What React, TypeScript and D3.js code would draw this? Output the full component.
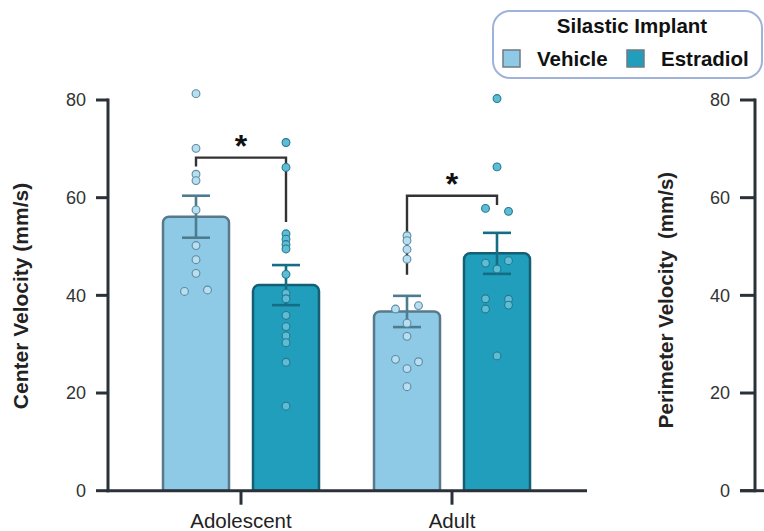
import React from "react";
import * as d3 from "d3";

// Groups and treatment series
const groups = ["Adolescent", "Adult"];
const series = ["Vehicle", "Estradiol"];

// Bar means and SEM (mm/s), indexed by group
const vehicleMean = [56.1, 36.7];
const vehicleSem = [4.3, 3.2];
const estradiolMean = [42.1, 48.6];
const estradiolSem = [4.1, 4.2];

// Individual animals: [value, lane] where lane spreads overlapping points
const adolescentVehicle: [number, number][] = [
  [81.3, 0], [70.1, 0], [64.8, 0], [63.5, 0], [57.5, 0], [50.2, 0], [47.3, 0], [44.5, 0], [40.8, -1], [41.1, 1],
];
const adolescentEstradiol: [number, number][] = [
  [71.3, 0], [66.2, 0], [52.6, 0], [51.5, 0], [50.4, 0], [49.5, 0], [44.3, 0], [40.4, 0], [39.3, 0], [35.9, 0],
  [33.6, 0], [31.7, 0], [30.3, 0], [26.3, 0], [17.3, 0],
];
const adultVehicle: [number, number][] = [
  [52.2, 0], [51.2, 0], [49.4, 0], [47.4, 0], [37.2, -1], [37.9, 1], [34.3, 0], [31.6, 0], [26.9, -1], [26.4, 1],
  [25.0, 0], [21.3, 0],
];
const adultEstradiol: [number, number][] = [
  [80.3, 0], [66.3, 0], [57.8, -1], [57.2, 1], [46.6, -1], [47.1, 1], [45.4, 0], [39.3, -1], [37.2, -1], [39.2, 1],
  [38.0, 1], [27.6, 0],
];

// Significance brackets per group (y levels in mm/s)
const bracketLevel = [68.2, 60.4];
const bracketLeftEnd = [66.4, 44.2];
const bracketRightEnd = [55.0, 58.5];
const bracketLabel = ["*", "*"];

const yTicks = [0, 20, 40, 60, 80];

const W = 764;
const H = 531;
const FONT = "'Liberation Sans', Arial, Helvetica, sans-serif";
const AXIS = "#2b3138";

const colors = {
  Vehicle: { fill: "#8ecae6", stroke: "#58798a", err: "#4d7c91", dot: "#b9def0", dotStroke: "#5c8ba2" },
  Estradiol: { fill: "#219ebc", stroke: "#145f73", err: "#156d84", dot: "#5dbdd5", dotStroke: "#267890" },
} as const;

function topRounded(x: number, y: number, w: number, h: number, r: number) {
  return `M${x},${y + h}V${y + r}A${r},${r} 0 0 1 ${x + r},${y}H${x + w - r}A${r},${r} 0 0 1 ${x + w},${y + r}V${y + h}Z`;
}

export default function App() {
  const y = d3.scaleLinear().domain([0, 80]).range([490.7, 100]);
  const x = d3.scalePoint<string>().domain(groups).range([241, 452]);
  const inner = d3.scaleBand<string>().domain(series).range([-78, 78]).paddingInner(0.2667).paddingOuter(0);
  const bw = inner.bandwidth();

  const means: Record<string, number[]> = { Vehicle: vehicleMean, Estradiol: estradiolMean };
  const sems: Record<string, number[]> = { Vehicle: vehicleSem, Estradiol: estradiolSem };
  const points: Record<string, [number, number][][]> = {
    Vehicle: [adolescentVehicle, adultVehicle],
    Estradiol: [adolescentEstradiol, adultEstradiol],
  };

  const center = (g: string, s: string) => (x(g) as number) + (inner(s) as number) + bw / 2;
  const y0 = y(0);

  return (
    <svg width={W} height={H} style={{ position: "absolute", left: 0, top: 0, background: "#fff" }} fontFamily={FONT}>
      {/* Bars */}
      {groups.map((g, gi) =>
        series.map((s) => {
          const c = colors[s as keyof typeof colors];
          const top = y(means[s][gi]);
          return (
            <path
              key={`bar-${g}-${s}`}
              d={topRounded(center(g, s) - bw / 2, top, bw, y0 - top, 6)}
              fill={c.fill}
              stroke={c.stroke}
              strokeWidth={2.5}
            />
          );
        })
      )}

      {/* Error bars */}
      {groups.map((g, gi) =>
        series.map((s) => {
          const c = colors[s as keyof typeof colors];
          const cx = center(g, s);
          const hi = y(means[s][gi] + sems[s][gi]);
          const lo = y(means[s][gi] - sems[s][gi]);
          return (
            <g key={`err-${g}-${s}`} stroke={c.err} strokeWidth={2.6}>
              <line x1={cx} x2={cx} y1={hi} y2={lo} />
              <line x1={cx - 14} x2={cx + 14} y1={hi} y2={hi} />
              <line x1={cx - 14} x2={cx + 14} y1={lo} y2={lo} />
            </g>
          );
        })
      )}

      {/* Significance brackets */}
      {groups.map((g, gi) => {
        const xl = center(g, "Vehicle");
        const xr = center(g, "Estradiol");
        const yl = y(bracketLevel[gi]);
        return (
          <g key={`br-${g}`}>
            <path
              d={`M${xl},${y(bracketLeftEnd[gi])}V${yl}H${xr}V${y(bracketRightEnd[gi])}`}
              fill="none"
              stroke="#333"
              strokeWidth={2.4}
            />
            <text x={(xl + xr) / 2} y={yl - 1} textAnchor="middle" fontSize={32} fontWeight="bold" fill="#111">
              {bracketLabel[gi]}
            </text>
          </g>
        );
      })}

      {/* Individual points */}
      {groups.map((g, gi) =>
        series.map((s) => {
          const c = colors[s as keyof typeof colors];
          const cx = center(g, s);
          return points[s][gi].map(([v, lane], i) => (
            <circle
              key={`pt-${g}-${s}-${i}`}
              cx={cx + lane * 11.5}
              cy={y(v)}
              r={3.9}
              fill={c.dot}
              stroke={c.dotStroke}
              strokeWidth={1.1}
            />
          ));
        })
      )}

      {/* Left y axis */}
      <line x1={108} x2={108} y1={y(80) - 1.5} y2={y0 + 1.5} stroke={AXIS} strokeWidth={3} />
      {yTicks.map((t) => (
        <g key={`lt-${t}`}>
          <line x1={96} x2={108} y1={y(t)} y2={y(t)} stroke={AXIS} strokeWidth={3} />
          <text x={86} y={y(t)} dy="0.35em" textAnchor="end" fontSize={18} fill="#333">
            {t}
          </text>
        </g>
      ))}
      <text
        transform={`translate(28,296) rotate(-90)`}
        textAnchor="middle"
        fontSize={21}
        fontWeight="bold"
        fill="#222"
      >
        Center Velocity (mm/s)
      </text>

      {/* X axis */}
      <line x1={106.5} x2={587} y1={y0} y2={y0} stroke={AXIS} strokeWidth={3} />
      {groups.map((g) => (
        <g key={`xt-${g}`}>
          <line x1={x(g)} x2={x(g)} y1={y0} y2={y0 + 14} stroke={AXIS} strokeWidth={3} />
          <text x={x(g)} y={527.5} textAnchor="middle" fontSize={20.5} fill="#222">
            {g}
          </text>
        </g>
      ))}

      {/* Second panel axis */}
      <line x1={755} x2={755} y1={y(80) - 1.5} y2={y0 + 1.5} stroke={AXIS} strokeWidth={3} />
      <line x1={740} x2={764} y1={y0} y2={y0} stroke={AXIS} strokeWidth={3} />
      {yTicks.map((t) => (
        <g key={`rt-${t}`}>
          <line x1={740} x2={755} y1={y(t)} y2={y(t)} stroke={AXIS} strokeWidth={3} />
          <text x={730} y={y(t)} dy="0.35em" textAnchor="end" fontSize={18} fill="#333">
            {t}
          </text>
        </g>
      ))}
      <text
        transform={`translate(673,300) rotate(-90)`}
        textAnchor="middle"
        fontSize={20.5}
        fontWeight="bold"
        fill="#222"
        style={{ whiteSpace: "pre" }}
      >
        {"Perimeter Velocity  (mm/s)"}
      </text>

      {/* Legend */}
      <rect x={493} y={11} width={269} height={67} rx={17} fill="#fff" stroke="#9fb3da" strokeWidth={2} />
      <text x={632} y={33} textAnchor="middle" fontSize={20.5} fontWeight="bold" fill="#111">
        Silastic Implant
      </text>
      {series.map((s, i) => {
        const c = colors[s as keyof typeof colors];
        const sx = i === 0 ? 503 : 627;
        return (
          <g key={`lg-${s}`}>
            <rect x={sx} y={50} width={17} height={17} fill={c.fill} stroke="#707a80" strokeWidth={1.5} />
            <text x={sx + 34} y={66} fontSize={20.5} fontWeight="bold" fill="#111">
              {s}
            </text>
          </g>
        );
      })}
    </svg>
  );
}
